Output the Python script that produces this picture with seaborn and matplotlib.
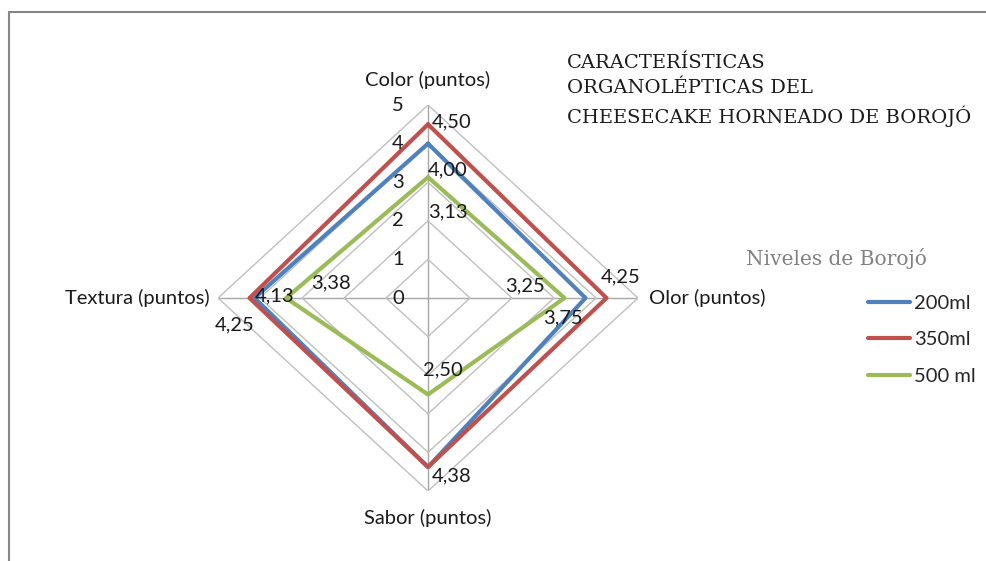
import numpy as np
import pandas as pd
import matplotlib
matplotlib.use("Agg")
import matplotlib.pyplot as plt
import seaborn as sns
from matplotlib.patches import Rectangle

categorias = ["Color (puntos)", "Olor (puntos)", "Sabor (puntos)", "Textura (puntos)"]
niveles = ["200ml", "350ml", "500 ml"]
v_200 = [4.00, 3.75, 4.38, 4.13]
v_350 = [4.50, 4.25, 4.38, 4.25]
v_500 = [3.13, 3.25, 2.50, 3.38]
ticks_r = [0, 1, 2, 3, 4, 5]

colores = ["#4F81BD", "#C0504D", "#9BBB59"]

# label offsets in pixels (dx, dy) per series and axis, like the original
offs = {
    "200ml": [(20, -26), (-23, -20), (24, -9), (20, 2)],
    "350ml": [(24, 2), (14, 21), (24, -9), (-15, -27)],
    "500 ml": [(20, -35), (-40, 12), (15, 25), (45, 15)],
}

FS = 14.5

sns.set_style("white")
plt.rcParams["font.family"] = ["Lato", "DejaVu Sans"]

ang = np.linspace(0, 2 * np.pi, len(categorias), endpoint=False)

rows = []
for nom, vals in zip(niveles, [v_200, v_350, v_500]):
    for i, v in enumerate(vals + vals[:1]):
        t = ang[i] if i < len(vals) else 2 * np.pi
        rows.append({"nivel": nom, "theta": t, "valor": v, "orden": i})
df = pd.DataFrame(rows)

fig = plt.figure(figsize=(9.87, 5.61), dpi=100)
ax = fig.add_axes([0.2209, 0.1248, 0.4255, 0.688], projection="polar")
ax.set_aspect("auto")
ax.set_theta_zero_location("N")
ax.set_theta_direction(-1)
ax.set_ylim(0, 5)
ax.spines["polar"].set_visible(False)
ax.yaxis.grid(False)
ax.set_yticklabels([])
ax.set_xticks(ang)
ax.set_xticklabels([])
ax.xaxis.grid(True, color="#A6A6A6", lw=1)

# polygon gridlines
for r in ticks_r[1:]:
    ax.plot(np.append(ang, 2 * np.pi), [r] * (len(ang) + 1), color="#BFBFBF", lw=1, zorder=1)

sns.lineplot(data=df, x="theta", y="valor", hue="nivel", palette=colores, sort=False,
             estimator=None, units="nivel", lw=3, ax=ax, legend=False, zorder=3)
ax.set_xlabel("")
ax.set_ylabel("")

# radial tick labels
for r in ticks_r:
    ax.annotate(str(r), (0, r), xytext=(-30, 0), textcoords="offset pixels",
                ha="center", va="center", fontsize=FS, color="#1a1a1a")

# data labels (skip duplicates that sit on the same spot)
hechos = set()
for nom, vals in zip(niveles[::-1], [v_500, v_350, v_200]):
    for i, v in enumerate(vals):
        if (i, v) in hechos:
            continue
        hechos.add((i, v))
        dx, dy = offs[nom][i]
        ax.annotate(f"{v:.2f}".replace(".", ","), (ang[i], v), xytext=(dx, dy),
                    textcoords="offset pixels", ha="center", va="center",
                    fontsize=FS, color="#1a1a1a", zorder=5)

# category labels
cat_off = [((0, 25), "center"), ((11, 0), "left"), ((0, -27), "center"), ((-8, 0), "right")]
for i, c in enumerate(categorias):
    (dx, dy), ha = cat_off[i]
    ax.annotate(c, (ang[i], 5), xytext=(dx, dy), textcoords="offset pixels",
                ha=ha, va="center", fontsize=FS, color="#1a1a1a")

# title
fig.text(567 / 987, 1 - 54 / 561,
         "CARACTERÍSTICAS\nORGANOLÉPTICAS DEL\nCHEESECAKE HORNEADO DE BOROJÓ",
         ha="left", va="top", fontsize=14, family="DejaVu Serif", linespacing=1.48,
         color="#1a1a1a")

# legend
fig.text(836 / 987, 1 - 258 / 561, "Niveles de Borojó", ha="center", va="center",
         fontsize=14.5, family="DejaVu Serif", color="#808080")
handles = [plt.Line2D([], [], color=c, lw=3) for c in colores]
fig.legend(handles, niveles, loc="upper left", bbox_to_anchor=(858 / 987, 1 - 285 / 561),
           frameon=False, fontsize=FS, handlelength=2.1, handletextpad=0.2,
           labelspacing=0.95, borderpad=0)

# outer frame (cut off at right and bottom)
fig.patches.append(Rectangle((9 / 987, -0.1), 1.2, 1 - 12 / 561 + 0.1, transform=fig.transFigure,
                             fill=False, ec="#868686", lw=1.5))

fig.savefig("out.png", dpi=100, facecolor="white")
